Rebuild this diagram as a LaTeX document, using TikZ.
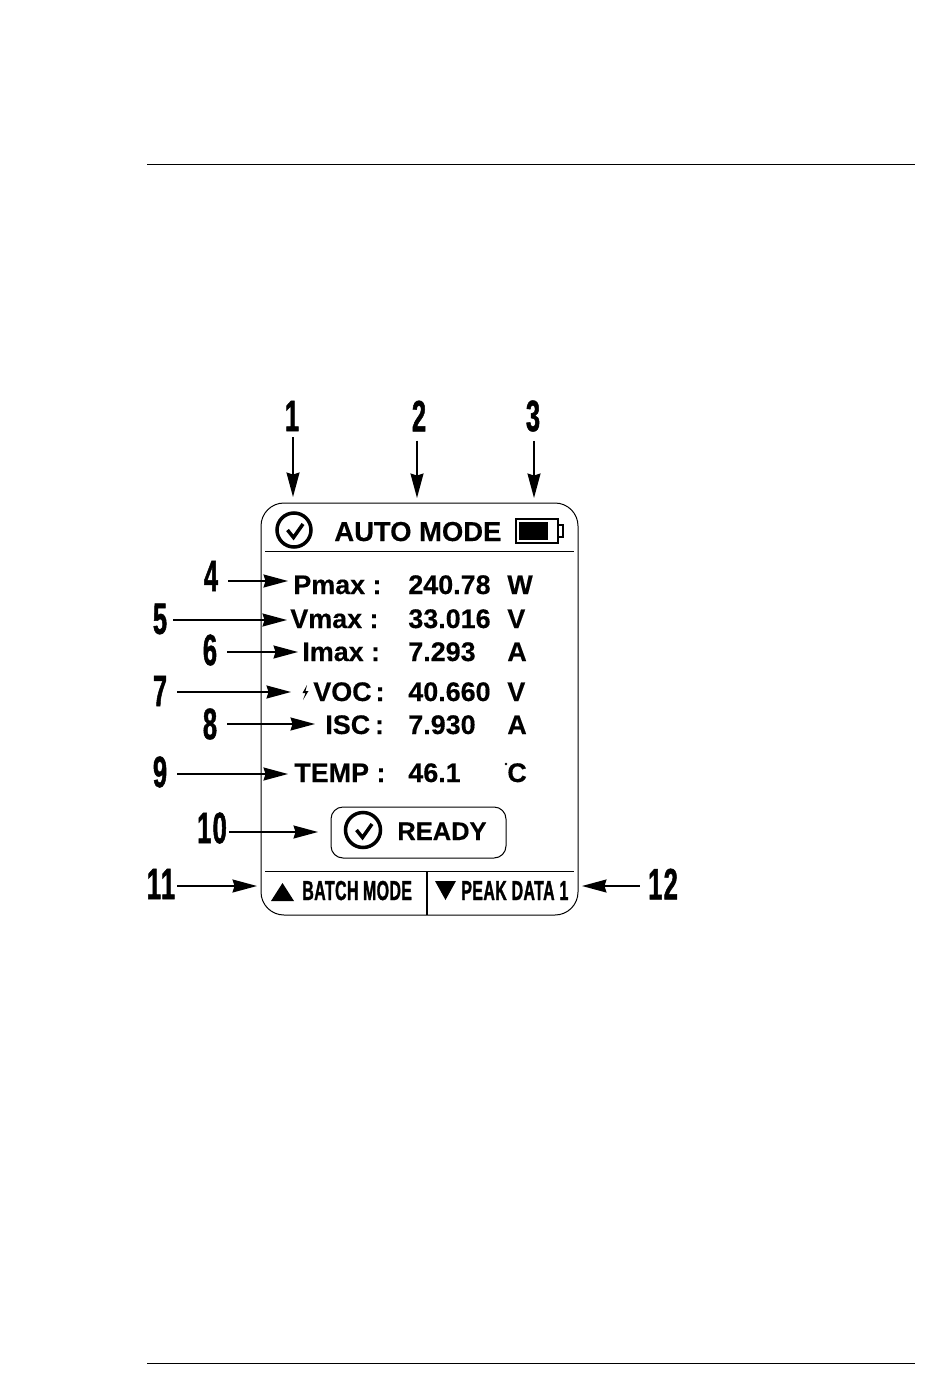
\documentclass[tikz,border=0pt]{standalone}
\usepackage{fontspec}
\usetikzlibrary{arrows.meta}
\setmainfont{Liberation Sans}
\newfontfamily\condfont[FakeStretch=0.58,FakeBold=1.1,LetterSpace=3]{Liberation Sans Bold}
\newfontfamily\keyfont[FakeStretch=0.58,FakeBold=1.1,LetterSpace=1.5]{Liberation Sans Bold}
\newfontfamily\heavyfont[FakeBold=0.35]{Liberation Sans Bold}
\tikzset{
  numlabel/.style={font=\condfont\fontsize{25}{25}\selectfont,inner sep=0.4mm},
  softkey/.style={font=\keyfont\fontsize{15.6}{16}\selectfont,anchor=base west,inner sep=0},
  readout/.style={font=\heavyfont\fontsize{15.3}{18}\selectfont,anchor=base west,inner sep=0},
  callout/.style={->,line width=0.3mm},
  rulerline/.style={line width=0.2mm},
  tickring/.style={line width=0.7mm},
}

\begin{document}
\begin{tikzpicture}[x=0.2mm,y=-0.2mm,>={Stealth[length=4.9mm,width=2.6mm,inset=0.4mm]}]
\useasboundingbox (0,0) rectangle (950,1392);
% page rules
\draw[rulerline] (147,165) -- (915,165);
\draw[rulerline] (147,1363) -- (915,1363);
% display
\draw[rulerline,rounded corners=4.6mm] (261,503) rectangle (578,915);
\draw[rulerline] (265,551) -- (574,551);
\draw[rulerline] (265,871) -- (574,871);
\draw[line width=0.4mm] (426.5,871) -- (426.5,915);
% status line
\draw[tickring] (294,530) circle (17);
\draw[tickring] (287.5,530) -- (293.5,537.5) -- (303,524);
\node[readout,font=\heavyfont\fontsize{15.6}{18}\selectfont] (modetext) at (334,541) {AUTO MODE};
\draw[line width=0.3mm] (516,519) rectangle (558,543);
\fill (519,522) rectangle (548,540);
\draw[line width=0.3mm] (558,525) -- (563,525) -- (563,537) -- (558,537);
% readings
\node[readout] (pmax) at (293,594) {Pmax :};
\node[readout] (pmaxval) at (408,594) {240.78};
\node[readout] (pmaxunit) at (507,594) {W};
\node[readout] (vmax) at (290,628) {Vmax :};
\node[readout] (vmaxval) at (408,628) {33.016};
\node[readout] (vmaxunit) at (507,628) {V};
\node[readout] (imax) at (302,661) {Imax :};
\node[readout] (imaxval) at (408,661) {7.293};
\node[readout] (imaxunit) at (507,661) {A};
\fill (307,685) -- (302.5,693) -- (305.5,693) -- (303,700) -- (308.5,691) -- (305.5,691) -- cycle;
\node[readout] (voc) at (313,701) {VOC\hspace{0.15em}:};
\node[readout] (vocval) at (408,701) {40.660};
\node[readout] (vocunit) at (507,701) {V};
\node[readout] (isc) at (325,734) {ISC\hspace{0.18em}:};
\node[readout] (iscval) at (408,734) {7.930};
\node[readout] (iscunit) at (507,734) {A};
\node[readout] (temp) at (294,782) {TEMP :};
\node[readout] (tempval) at (408,782) {46.1};
\node[readout] (tempunit) at (507,782) {C};
\fill (506,764) circle (1.3);
% ready box
\draw[rulerline,rounded corners=2.4mm] (331,807) rectangle (506,858);
\draw[tickring] (363,830) circle (17.5);
\draw[tickring] (356.5,830) -- (362.5,837.5) -- (372,824);
\node[readout,font=\heavyfont\fontsize{14.5}{18}\selectfont] (ready) at (397,840) {READY};
% softkeys
\fill (271,901) -- (294,901) -- (282.5,883) -- cycle;
\node[softkey] (batch) at (302,900) {BATCH\,MODE};
\fill (435,881) -- (456,881) -- (445.5,900) -- cycle;
\node[softkey] (peak) at (461,900) {PEAK DATA 1};
% numbers
\node[numlabel] (n1) at (292,416) {1};
\node[numlabel] (n2) at (419,416) {2};
\node[numlabel] (n3) at (533,416) {3};
\node[numlabel] (n4) at (211,576) {4};
\node[numlabel] (n5) at (160,619) {5};
\node[numlabel] (n6) at (210,650) {6};
\node[numlabel] (n7) at (160,691) {7};
\node[numlabel] (n8) at (210,724) {8};
\node[numlabel] (n9) at (160,772) {9};
\node[numlabel] (n10) at (212,828) {10};
\node[numlabel] (n11) at (161,884) {11};
\node[numlabel] (n12) at (663,884) {12};
% arrow tips
\coordinate (t1) at (293,497);
\coordinate (t2) at (417,498);
\coordinate (t3) at (534,498);
\coordinate (t4) at (288,581);
\coordinate (t5) at (287,620);
\coordinate (t6) at (298,652);
\coordinate (t7) at (291,692);
\coordinate (t8) at (315,724);
\coordinate (t9) at (288,774);
\coordinate (t10) at (318,832);
\coordinate (t11) at (257,886);
\coordinate (t12) at (582,886);
% callouts
\draw[callout,shorten <=0.8mm] (t1 |- n1.south) -- (t1);
\draw[callout,shorten <=1.4mm] (t2 |- n2.south) -- (t2);
\draw[callout,shorten <=1.4mm] (t3 |- n3.south) -- (t3);
\draw[callout,shorten <=1.6mm] (n4.east |- t4) -- (t4);
\draw[callout,shorten <=0.8mm] (n5.east |- t5) -- (t5);
\draw[callout,shorten <=1.6mm] (n6.east |- t6) -- (t6);
\draw[callout,shorten <=1.6mm] (n7.east |- t7) -- (t7);
\draw[callout,shorten <=1.6mm] (n8.east |- t8) -- (t8);
\draw[callout,shorten <=1.6mm] (n9.east |- t9) -- (t9);
\draw[callout] (n10.east |- t10) -- (t10);
\draw[callout] (n11.east |- t11) -- (t11);
\draw[callout,shorten <=1.2mm] (n12.west |- t12) -- (t12);
\end{tikzpicture}
\end{document}
